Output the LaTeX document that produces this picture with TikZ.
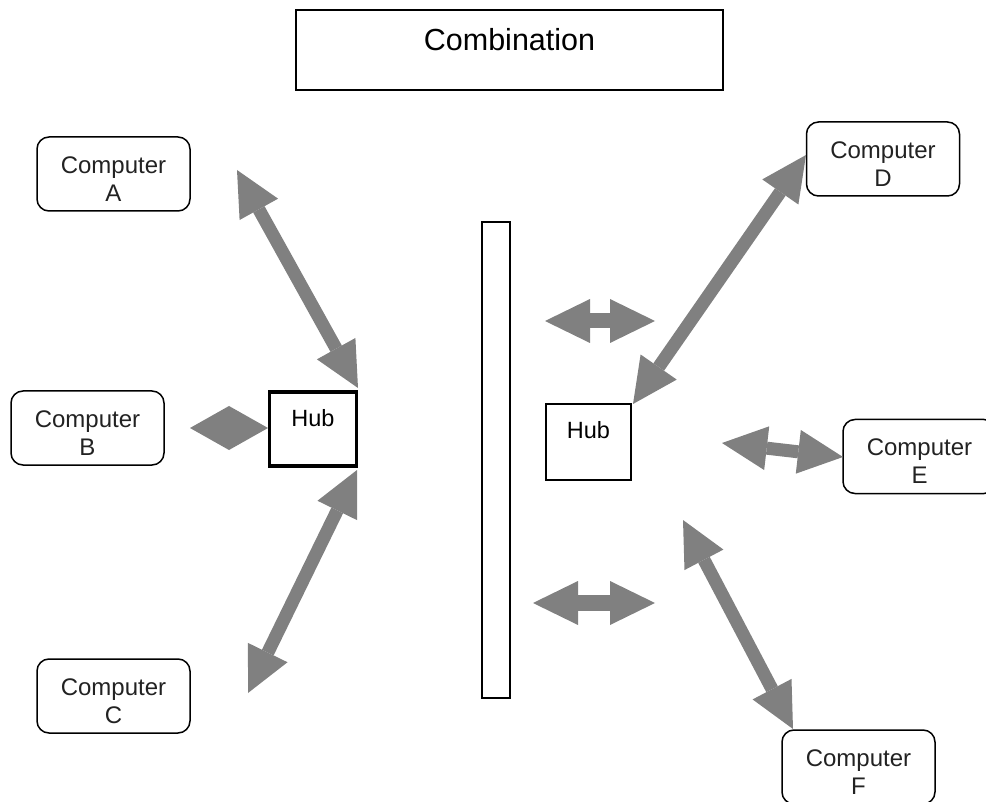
\documentclass[tikz,border=0pt]{standalone}
\usepackage{fontspec}
\setmainfont{Liberation Sans}
\usetikzlibrary{arrows.meta}
\definecolor{arrowgray}{RGB}{128,128,128}
\definecolor{txt}{RGB}{34,34,34}
\tikzset{
  compbox/.style={draw, rounded corners=12pt, line width=1.5pt, minimum width=153pt, minimum height=74pt, inner sep=0pt},
  comptext/.style={align=center, text=txt, font=\fontsize{24}{28}\selectfont, yshift=-5pt, inner sep=0pt},
  dbl/.style={draw=arrowgray, line width=13pt, {Triangle[length=45pt,width=44pt,line width=0pt]}-{Triangle[length=45pt,width=44pt,line width=0pt]}},
  plainbox/.style={draw, inner sep=0pt},
  hubtext/.style={font=\fontsize{23.5}{28}\selectfont, inner sep=0pt}
}
\begin{document}
\begin{tikzpicture}[x=1pt,y=-1pt]
\useasboundingbox (0,0) rectangle (986,802);
\begin{scope}
\clip (0,0) rectangle (986,802);
% title
\node[plainbox, line width=1.5pt, minimum width=427pt, minimum height=80pt,
  label={[font=\fontsize{30.5}{34}\selectfont, inner sep=0pt, yshift=10pt]center:Combination}] (title) at (509.5,50) {};
% computers
\node[compbox, label={[comptext]center:Computer\\A}] (A) at (113.5,174) {};
\node[compbox, label={[comptext]center:Computer\\B}] (B) at (87.5,428) {};
\node[compbox, label={[comptext]center:Computer\\C}] (C) at (113.5,696) {};
\node[compbox, label={[comptext]center:Computer\\D}] (D) at (883,159) {};
\node[compbox, label={[comptext]center:Computer\\E}] (E) at (919.5,456.5) {};
\node[compbox, label={[comptext]center:Computer\\F}] (F) at (858.5,767) {};
% hubs
\node[plainbox, line width=3.5pt, minimum width=87pt, minimum height=74pt,
  label={[hubtext, yshift=11pt]center:Hub}] (hub1) at (313,429) {};
\node[plainbox, line width=1.8pt, minimum width=85pt, minimum height=76pt,
  label={[hubtext, yshift=12pt]center:Hub}] (hub2) at (588.5,442) {};
% backbone
\node[plainbox, line width=1.5pt, minimum width=28pt, minimum height=476pt] (bus) at (496,460) {};
% arrow end points
\coordinate (a1) at (237,170); \coordinate (a2) at (358,388);
\coordinate (b1) at (190,428); \coordinate (b2) at (268,428);
\coordinate (c1) at (357,470); \coordinate (c2) at (248,693);
\coordinate (m1) at (545,321); \coordinate (m2) at (655,321);
\coordinate (n1) at (533,603); \coordinate (n2) at (655,603);
\coordinate (d1) at (806,155); \coordinate (d2) at (633,404);
\coordinate (e1) at (722,443); \coordinate (e2) at (843,457);
\coordinate (f1) at (683,520); \coordinate (f2) at (793,729);
% arrows
\draw[dbl] (a1) -- (a2);
\draw[dbl, {Triangle[length=39pt,width=44pt,line width=0pt]}-{Triangle[length=39pt,width=44pt,line width=0pt]}] (b1) -- (b2);
\draw[dbl] (c1) -- (c2);
\draw[dbl, line width=15pt] (m1) -- (m2);
\draw[dbl, line width=16pt] (n1) -- (n2);
\draw[dbl] (d1) -- (d2);
\draw[dbl] (e1) -- (e2);
\draw[dbl] (f1) -- (f2);
\end{scope}
\end{tikzpicture}
\end{document}
